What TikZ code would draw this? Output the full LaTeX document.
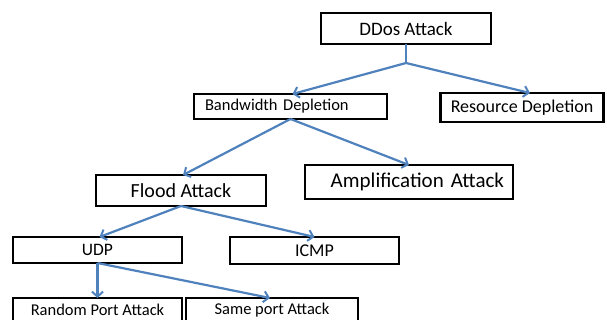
\documentclass[tikz,border=0pt]{standalone}
\usepackage{fontspec}
\setmainfont{Carlito}
\usetikzlibrary{arrows.meta,calc}
\definecolor{linkblue}{HTML}{4F81BD}
\tikzset{
  box/.style={draw=black, line width=2.5pt, fill=white, inner sep=0pt, outer sep=0pt},
  link/.style={draw=linkblue, line width=2.2pt,
    -{Straight Barb[length=5pt,width=11pt,line width=2pt]}},
  plain/.style={draw=linkblue, line width=2.2pt}
}
\begin{document}
\begin{tikzpicture}[x=1pt,y=-1pt]
  \useasboundingbox (0,0) rectangle (607,320);
  \clip (0,0) rectangle (607,320);

  % boxes
  \node[box, minimum width=170pt, minimum height=31pt, font=\fontsize{19}{22}\selectfont]
    (ddos) at (406,28.5) {DDos Attack};
  \node[box, minimum height=25pt, text width=171pt, inner xsep=11pt, align=left,
        font=\fontsize{16.5}{19}\selectfont]
    (bw) at (290.5,106.5) {Bandwidth Depletion};
  \node[box, minimum width=163pt, minimum height=29pt, font=\fontsize{18}{21}\selectfont]
    (rd) at (522,107.5) {Resource Depletion};
  \node[box, minimum width=170pt, minimum height=31pt, font=\fontsize{20}{23}\selectfont]
    (flood) at (181,190.5) {Flood Attack};
  \node[box, minimum height=34pt, text width=190pt, inner xsep=9pt, align=right,
        font=\fontsize{21}{24}\selectfont]
    (amp) at (409,182) {Amplification Attack};
  \node[box, minimum width=169pt, minimum height=26pt, font=\fontsize{17.5}{20}\selectfont]
    (udp) at (97.5,250) {UDP};
  \node[box, minimum width=169pt, minimum height=27pt, font=\fontsize{18}{21}\selectfont]
    (icmp) at (314.5,250.5) {ICMP};
  \node[box, minimum width=169pt, minimum height=24pt, font=\fontsize{16.5}{19}\selectfont]
    (rpa) at (97.5,310) {Random Port Attack};
  \node[box, minimum width=172pt, minimum height=24pt, font=\fontsize{16.5}{19}\selectfont]
    (spa) at (272,310) {Same port Attack};

  % connectors
  \coordinate (split) at ($(ddos.south)+(0,19)$);
  \draw[plain] (ddos.south) -- (split);
  \draw[link] (split) -- ($(bw.north)+(2,0)$);
  \draw[link] (split) -- ($(rd.north)+(8,0)$);
  \draw[link] (bw.south) -- ($(flood.north)+(2,0)$);
  \draw[link] (bw.south) -- (amp.north);
  \draw[link] (flood.south) -- ($(udp.north)+(2,0)$);
  \draw[link] (flood.south) -- (icmp.north);
  \draw[link] (udp.south) -- (rpa.north);
  \draw[link] (udp.south) -- ($(spa.north)+(-2,0)$);
\end{tikzpicture}
\end{document}
